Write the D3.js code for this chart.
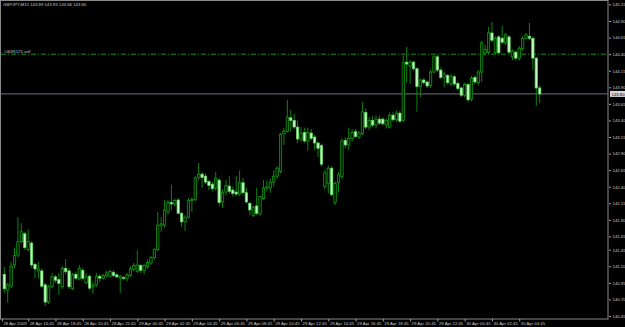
<!DOCTYPE html>
<html>
<head>
<meta charset="utf-8">
<script src="https://cdn.jsdelivr.net/npm/d3@7"></script>
<style>
  html, body { margin: 0; padding: 0; background: #000; }
  svg { display: block; }
  .axis text { font-family: "Liberation Sans", Arial, sans-serif; font-size: 4.3px; fill: #c8c8c8; }
  .axis line { stroke: #a0a0a0; }
  .axis path { display: none; }
</style>
</head>
<body>
<div id="chart"></div>
<script>
// GBPJPY M15, 28 Apr 2009 15:00 -> 30 Apr 2009 06:15 (158 bars)
const open = [
  141.08,140.84,140.90,141.22,141.37,141.57,141.69,141.45,141.55,141.23,
  141.13,141.13,140.92,140.66,140.89,141.04,141.00,140.89,141.17,141.13,
  140.86,141.08,141.01,141.14,140.95,141.05,140.89,140.92,141.05,141.02,
  141.06,141.05,141.11,141.07,141.02,141.03,141.02,141.06,141.15,141.12,
  141.21,141.14,141.19,141.25,141.33,141.45,141.82,141.82,142.02,142.16,
  142.14,142.20,142.00,141.87,141.94,142.19,142.21,142.54,142.59,142.56,
  142.48,142.44,142.38,142.50,142.17,142.32,142.41,142.35,142.32,142.29,
  142.46,142.31,142.15,141.97,142.11,141.99,142.22,142.38,142.38,142.47,
  142.56,142.63,143.20,143.23,143.44,143.40,143.30,143.12,143.22,143.09,
  143.21,143.15,143.06,143.02,142.40,142.45,142.68,142.16,142.46,142.55,
  143.10,143.03,143.13,143.23,143.15,143.20,143.52,143.30,143.40,143.33,
  143.42,143.42,143.33,143.30,143.48,143.41,143.51,143.40,144.28,144.22,
  144.28,144.18,143.91,144.01,143.98,143.93,144.13,144.36,144.16,144.05,
  144.08,143.95,144.06,143.96,143.89,143.78,143.94,143.72,144.05,143.97,
  144.13,144.42,144.43,144.72,144.42,144.66,144.64,144.57,144.66,144.36,
  144.43,144.34,144.48,144.64,144.67,144.64,144.34,143.89
];
const high = [
  141.19,140.95,141.27,141.48,141.94,141.85,141.72,141.76,141.58,141.25,
  141.27,141.17,140.95,140.92,141.10,141.07,141.10,141.20,141.31,141.17,
  141.10,141.12,141.22,141.18,141.10,141.08,140.97,141.10,141.08,141.09,
  141.13,141.15,141.14,141.10,141.07,141.05,141.10,141.20,141.25,141.44,
  141.24,141.24,141.30,141.36,141.48,142.02,141.94,142.20,142.20,142.43,
  142.22,142.23,142.02,141.97,142.23,142.24,142.56,142.76,142.62,142.60,
  142.50,142.47,142.62,142.53,142.36,142.50,142.56,142.40,142.56,142.64,
  142.53,142.38,142.17,142.12,142.38,142.26,142.50,142.50,142.52,142.65,
  142.71,143.21,143.29,143.71,143.56,143.50,143.40,143.30,143.29,143.29,
  143.27,143.18,143.08,143.05,142.65,142.72,142.71,142.48,142.62,143.13,
  143.15,143.29,143.27,143.27,143.24,143.68,143.58,143.45,143.47,143.48,
  143.47,143.45,143.43,143.52,143.53,143.55,143.54,144.38,144.51,144.31,
  144.30,144.20,144.03,144.04,144.00,144.16,144.39,144.39,144.20,144.13,
  144.10,144.10,144.08,143.99,143.91,143.97,143.97,144.07,144.08,144.16,
  144.60,144.54,144.81,144.885,144.67,144.69,144.825,144.72,144.69,144.47,
  144.46,144.52,144.67,144.72,144.87,144.67,144.36,143.93
];
const low = [
  140.80,140.65,140.87,141.17,141.33,141.55,141.45,141.42,141.18,141.02,
  141.02,140.87,140.60,140.63,140.87,140.95,140.77,140.86,141.08,140.86,
  140.84,140.99,140.99,140.99,140.93,140.84,140.78,140.89,140.96,141.00,
  141.03,141.03,141.03,141.02,140.80,140.99,140.97,141.04,141.12,141.10,
  141.10,141.08,141.16,141.22,141.30,141.43,141.72,141.78,141.98,142.05,
  142.10,141.98,141.79,141.73,141.92,142.02,142.18,142.50,142.38,142.44,
  142.35,142.33,142.34,142.11,142.08,142.27,142.29,142.25,142.26,142.26,
  142.28,142.14,141.97,141.94,141.97,141.96,142.20,142.33,142.31,142.40,
  142.52,142.60,143.03,143.22,143.23,143.27,143.06,143.08,143.06,142.94,
  143.10,142.95,142.85,142.70,142.36,142.30,142.25,142.12,142.31,142.52,
  142.98,142.95,143.08,143.13,143.12,143.18,143.27,143.25,143.30,143.28,
  143.33,143.32,143.28,143.28,143.38,143.38,143.36,143.38,143.97,143.95,
  144.15,143.53,143.75,143.94,143.89,143.89,144.11,144.13,144.02,143.90,
  143.94,143.92,143.92,143.85,143.75,143.75,143.68,143.69,143.95,143.93,
  143.98,144.39,144.40,144.58,144.40,144.39,144.55,144.54,144.40,144.31,
  144.31,144.30,144.45,144.62,144.61,144.16,143.62,143.66
];
const close = [
  140.86,140.92,141.20,141.36,141.57,141.72,141.48,141.57,141.22,141.16,
  141.16,140.90,140.66,140.89,141.04,140.99,140.94,141.17,141.12,140.89,
  141.07,141.02,141.17,141.02,141.04,140.87,140.92,141.05,141.02,141.06,
  141.10,141.12,141.06,141.04,141.05,141.02,141.07,141.16,141.21,141.22,
  141.14,141.21,141.26,141.33,141.45,141.82,141.84,142.05,142.16,142.14,
  142.19,142.00,141.87,141.94,142.19,142.21,142.53,142.59,142.54,142.47,
  142.42,142.37,142.53,142.16,142.31,142.42,142.33,142.30,142.29,142.46,
  142.31,142.17,142.05,142.09,142.00,142.25,142.38,142.40,142.47,142.56,
  142.68,143.19,143.24,143.45,143.40,143.30,143.12,143.20,143.09,143.22,
  143.13,143.06,142.98,142.74,142.61,142.68,142.28,142.45,142.58,143.09,
  143.03,143.13,143.22,143.16,143.21,143.53,143.30,143.40,143.33,143.42,
  143.36,143.35,143.40,143.48,143.41,143.51,143.39,144.27,144.25,144.28,
  144.18,143.91,144.01,143.97,143.92,144.13,144.36,144.16,144.05,144.10,
  143.97,144.06,143.95,143.88,143.78,143.94,143.71,144.04,143.98,144.13,
  144.57,144.47,144.72,144.61,144.64,144.42,144.58,144.69,144.43,144.45,
  144.34,144.49,144.64,144.69,144.64,144.34,143.89,143.80
];

const priceTicks = [145.15,144.90,144.65,144.40,144.15,143.90,143.65,143.40,143.15,142.90,
  142.65,142.40,142.15,141.90,141.65,141.45,141.20,140.95,140.70,140.45];

const timeLabels = ['28 Apr 2009','28 Apr 16:45','28 Apr 18:45','28 Apr 20:45','28 Apr 22:45',
  '29 Apr 00:45','29 Apr 02:45','29 Apr 04:45','29 Apr 06:45','29 Apr 08:45','29 Apr 10:45',
  '29 Apr 12:45','29 Apr 14:45','29 Apr 16:45','29 Apr 18:45','29 Apr 20:45','29 Apr 22:45',
  '30 Apr 00:45','30 Apr 02:45','30 Apr 04:45'];
const timeLabelBars = [-0.7,7,15,23,31,39,47,55,63,71,79,87,95,103,111,119,127,135,143,151];

const symbol = 'GBPJPY,M15';
const orderPrice = 144.40;
const orderLabel = '#4091175 sell';

const W = 625, H = 327;
const plotRight = 608, plotBottom = 319;

const svg = d3.select('#chart').append('svg')
  .attr('width', W).attr('height', H)
  .style('background', '#000');

const x = d3.scaleLinear().domain([0, 157]).range([4.3, 539.7]);
const y = d3.scaleLinear().domain([140.45, 144.90]).range([316, 21]);

const bars = open.map((o, i) => ({ i, o, h: high[i], l: low[i], c: close[i] }));
const last = bars[bars.length - 1];

// frame
svg.append('rect')
  .attr('x', 0.5).attr('y', 0.5)
  .attr('width', plotRight - 0.5).attr('height', plotBottom - 0.5)
  .attr('fill', 'none').attr('stroke', '#8a8a8a').attr('stroke-width', 1);

// order line (dash-dot)
svg.append('line')
  .attr('x1', 1).attr('x2', plotRight)
  .attr('y1', y(orderPrice)).attr('y2', y(orderPrice))
  .attr('stroke', '#0b9a0b').attr('stroke-width', 1)
  .attr('stroke-dasharray', '5,2,1,2');

svg.append('text')
  .attr('x', 4).attr('y', y(orderPrice) - 1.6)
  .style('font-family', '"Liberation Sans", Arial, sans-serif')
  .style('font-size', '4.3px').style('fill', '#c8c8c8')
  .text(orderLabel);

// bid line
svg.append('line')
  .attr('x1', 1).attr('x2', plotRight)
  .attr('y1', y(last.c)).attr('y2', y(last.c))
  .attr('stroke', '#6e6e80').attr('stroke-width', 1);

// candles
const g = svg.append('g');
g.selectAll('.wick')
  .data(bars)
  .join('line')
  .attr('class', 'wick')
  .attr('x1', d => x(d.i)).attr('x2', d => x(d.i))
  .attr('y1', d => y(d.h)).attr('y2', d => y(d.l))
  .attr('stroke', '#0f920f').attr('stroke-width', 0.9);

g.selectAll('.body')
  .data(bars)
  .join('rect')
  .attr('class', 'body')
  .attr('x', d => x(d.i) - 1.2)
  .attr('width', 2.4)
  .attr('y', d => y(Math.max(d.o, d.c)))
  .attr('height', d => Math.max(0.8, Math.abs(y(d.o) - y(d.c))))
  .attr('fill', d => d.c >= d.o ? '#021402' : '#c4f8c4')
  .attr('stroke', d => d.c >= d.o ? '#14a814' : '#5ad25a')
  .attr('stroke-width', 0.7);

// price axis
const yAxis = d3.axisRight(y)
  .tickValues(priceTicks)
  .tickFormat(d3.format('.2f'))
  .tickSize(2).tickPadding(1.5);

svg.append('g')
  .attr('class', 'axis')
  .attr('transform', `translate(${plotRight + 1},0)`)
  .call(yAxis);

// current price box
const bid = svg.append('g').attr('transform', `translate(${plotRight + 2},${y(last.c)})`);
bid.append('rect')
  .attr('x', 0).attr('y', -3).attr('width', 15).attr('height', 6)
  .attr('fill', '#d8d8d8');
bid.append('text')
  .attr('x', 1.5).attr('y', 1.6)
  .style('font-family', '"Liberation Sans", Arial, sans-serif')
  .style('font-size', '4.3px').style('fill', '#000')
  .text(d3.format('.2f')(last.c));

// time axis
const xAxis = d3.axisBottom(x)
  .tickValues(timeLabelBars)
  .tickFormat((d, i) => timeLabels[i])
  .tickSize(2.5);

svg.append('g')
  .attr('class', 'axis')
  .attr('transform', `translate(0,${plotBottom})`)
  .call(xAxis)
  .call(ax => ax.selectAll('text')
    .attr('text-anchor', 'start')
    .attr('x', 1).attr('y', 3).attr('dy', '0.71em'));

// header
svg.append('text')
  .attr('x', 3).attr('y', 5.8)
  .style('font-family', '"Liberation Sans", Arial, sans-serif')
  .style('font-size', '4.3px').style('fill', '#c8c8c8')
  .text(`${symbol}  ${d3.format('.2f')(last.o)} ${d3.format('.2f')(last.h)} ${d3.format('.2f')(last.l)} ${d3.format('.2f')(last.c)}`);
</script>
</body>
</html>
